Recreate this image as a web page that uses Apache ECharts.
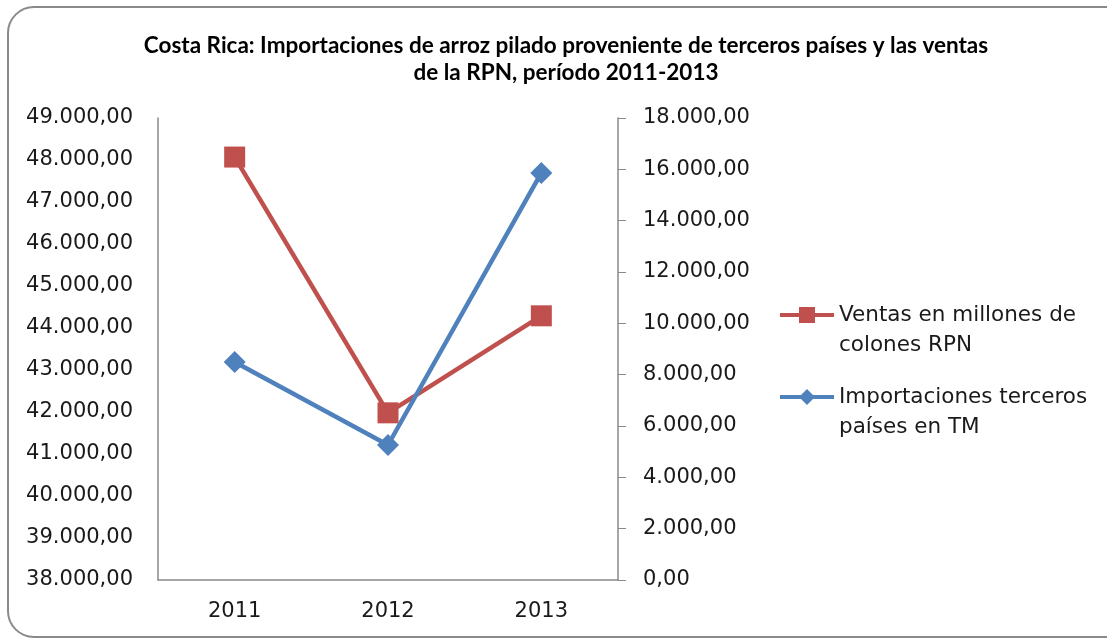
<!DOCTYPE html>
<html>
<head>
<meta charset="utf-8">
<script src="https://cdn.jsdelivr.net/npm/echarts@6/dist/echarts.min.js"></script>
<style>
  html, body { margin: 0; padding: 0; background: #fff; }
  #chart { width: 1107px; height: 640px; }
</style>
</head>
<body>
<div id="chart"></div>
<script>
const years = ['2011', '2012', '2013']
const ventas = [48070, 41980, 44290]          // millones de colones, eje izquierdo
const importaciones = [8490, 5260, 15860]     // TM, eje derecho
const leftTicks = { min: 38000, max: 49000, interval: 1000 }
const rightTicks = { min: 0, max: 18000, interval: 2000 }

const FONT = '"DejaVu Sans", sans-serif'

// 49000 -> "49.000,00"
const fmt = v => {
    const s = Math.round(v).toString().replace(/\B(?=(\d{3})+(?!\d))/g, '.')
    return s + ',00'
}

const option = {
    animation: false,
    backgroundColor: '#fff',
    title: {
        text: 'Costa Rica: Importaciones de arroz pilado proveniente de terceros países y las ventas\nde la RPN, período 2011-2013',
        left: 561,
        top: 27,
        textAlign: 'center',
        textStyle: {
            fontFamily: 'Lato, sans-serif',
            fontWeight: 'bold',
            fontSize: 22.5,
            lineHeight: 27,
            color: '#000'
        }
    },
    graphic: [{
        type: 'rect',
        shape: { x: 8, y: 7, width: 1130, height: 630, r: 26 },
        style: { fill: 'none', stroke: '#8a8a8a', lineWidth: 2 },
        silent: true
    }],
    legend: {
        orient: 'vertical',
        left: 773,
        top: 265,
        itemWidth: 54,
        itemHeight: 20,
        itemGap: -8,
        lineStyle: { width: 4 },
        data: ['Ventas en millones de\ncolones RPN', 'Importaciones terceros\npaíses en TM'],
        // empty first line keeps the icon level with the first text line
        formatter: name => ' \n' + name,
        textStyle: {
            fontFamily: FONT,
            fontSize: 21.5,
            lineHeight: 30,
            color: '#1a1a1a'
        }
    },
    grid: { left: 158, right: 489, top: 118, bottom: 60, containLabel: false },
    xAxis: {
        type: 'category',
        data: years,
        boundaryGap: true,
        axisLine: { lineStyle: { color: '#8a8a8a', width: 1.5 } },
        axisTick: { show: false },
        axisLabel: { fontFamily: FONT, fontSize: 21, color: '#1a1a1a', margin: 21 }
    },
    yAxis: [{
        type: 'value',
        position: 'left',
        ...leftTicks,
        axisLine: { show: true, lineStyle: { color: '#8a8a8a', width: 1.5 } },
        axisTick: { show: false },
        splitLine: { show: false },
        axisLabel: { fontFamily: FONT, fontSize: 21, color: '#1a1a1a', margin: 25, formatter: fmt }
    }, {
        type: 'value',
        position: 'right',
        ...rightTicks,
        axisLine: { show: true, lineStyle: { color: '#8a8a8a', width: 1.5 } },
        axisTick: { show: true, length: 8, lineStyle: { color: '#8a8a8a' } },
        splitLine: { show: false },
        axisLabel: { fontFamily: FONT, fontSize: 21, color: '#1a1a1a', margin: 25, formatter: fmt }
    }],
    series: [{
        name: 'Ventas en millones de\ncolones RPN',
        type: 'line',
        yAxisIndex: 0,
        data: ventas,
        symbol: 'rect',
        symbolSize: 21,
        itemStyle: { color: '#C0504D' },
        lineStyle: { color: '#C0504D', width: 4.5 }
    }, {
        name: 'Importaciones terceros\npaíses en TM',
        type: 'line',
        yAxisIndex: 1,
        data: importaciones,
        symbol: 'diamond',
        symbolSize: 22,
        itemStyle: { color: '#4F81BD' },
        lineStyle: { color: '#4F81BD', width: 4.5 }
    }]
}

const chart = echarts.init(document.getElementById('chart'))
chart.setOption(option)
</script>
</body>
</html>
